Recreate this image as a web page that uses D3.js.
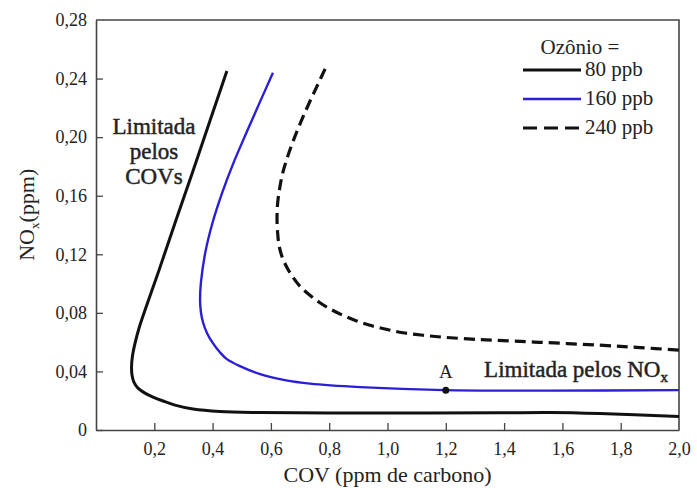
<!DOCTYPE html>
<html>
<head>
<meta charset="utf-8">
<script src="https://cdn.jsdelivr.net/npm/d3@7"></script>
<style>
  body { margin: 0; background: #fff; }
  text { font-family: "Liberation Serif", "DejaVu Serif", serif; fill: #222; }
</style>
</head>
<body>
<div id="grafico"></div>
<script>
// valores (COV em ppm C, NOx em ppm)
const xTicks = [0.2, 0.4, 0.6, 0.8, 1.0, 1.2, 1.4, 1.6, 1.8, 2.0];
const yTicks = [0, 0.04, 0.08, 0.12, 0.16, 0.20, 0.24, 0.28];

const curva80 = [
  [0.449, 0.2452], [0.391, 0.2112], [0.333, 0.1771], [0.274, 0.1431], [0.216, 0.1090],
  [0.192, 0.0954], [0.168, 0.0818], [0.1475, 0.0695], [0.134, 0.0593], [0.125, 0.0504],
  [0.122, 0.0436], [0.1235, 0.0375], [0.130, 0.0327], [0.144, 0.0286], [0.168, 0.0252],
  [0.1955, 0.0225], [0.230, 0.0198], [0.271, 0.0170], [0.333, 0.0143], [0.425, 0.0126],
  [0.563, 0.0119], [0.803, 0.0116], [1.146, 0.0116], [1.386, 0.0117], [1.557, 0.0119],
  [1.729, 0.0112], [2.0, 0.0092]
];
const curva160 = [
  [0.607, 0.2439], [0.561, 0.2234], [0.516, 0.2030], [0.472, 0.1826], [0.433, 0.1621],
  [0.400, 0.1417], [0.375, 0.1213], [0.360, 0.1008], [0.357, 0.0886], [0.360, 0.0804],
  [0.367, 0.0736], [0.381, 0.0661], [0.401, 0.0593], [0.425, 0.0531], [0.449, 0.0484],
  [0.494, 0.0436], [0.563, 0.0381], [0.648, 0.0341], [0.734, 0.0317], [0.906, 0.0293],
  [1.194, 0.0272], [1.557, 0.0269], [2.0, 0.0272]
];
const curva240 = [
  [0.786, 0.2466], [0.762, 0.2364], [0.738, 0.2262], [0.715, 0.2160], [0.693, 0.2057],
  [0.673, 0.1955], [0.655, 0.1853], [0.640, 0.1751], [0.630, 0.1649], [0.623, 0.1546],
  [0.621, 0.1444], [0.623, 0.1349], [0.628, 0.1260], [0.638, 0.1185], [0.655, 0.1110],
  [0.676, 0.1042], [0.700, 0.0981], [0.734, 0.0920], [0.768, 0.0869], [0.806, 0.0824],
  [0.847, 0.0783], [0.892, 0.0746], [0.940, 0.0715], [0.995, 0.0688], [1.053, 0.0664],
  [1.122, 0.0647], [1.190, 0.0634], [1.276, 0.0622], [1.362, 0.0613], [1.523, 0.0599],
  [1.729, 0.0579], [1.866, 0.0563], [2.0, 0.0545]
];
const pontoA = [1.2, 0.0272];

const series = [
  { nome: "80 ppb", dados: curva80, cor: "#111", largura: 3, traco: null, tracoLegenda: null },
  { nome: "160 ppb", dados: curva160, cor: "#2a1fd6", largura: 2.4, traco: null, tracoLegenda: null },
  { nome: "240 ppb", dados: curva240, cor: "#111", largura: 3.2, traco: "11,6", tracoLegenda: "14,7" }
];

const width = 697, height = 488;
const margin = { top: 20, right: 18, bottom: 58, left: 96 };

const x = d3.scaleLinear().domain([0, 2.0]).range([margin.left, width - margin.right]);
const y = d3.scaleLinear().domain([0, 0.28]).range([height - margin.bottom, margin.top]);

const svg = d3.select("#grafico").append("svg")
  .attr("width", width)
  .attr("height", height);

const virgula = d => d3.format(".2f")(d).replace(".", ",");

// eixo x (ticks para dentro)
const eixoX = svg.append("g")
  .attr("transform", `translate(0, ${y(0)})`)
  .call(d3.axisBottom(x).tickValues(xTicks).tickSizeInner(-7).tickSizeOuter(0).tickPadding(12)
    .tickFormat(d => d3.format(".1f")(d).replace(".", ",")));

const eixoY = svg.append("g")
  .attr("transform", `translate(${x(0)}, 0)`)
  .call(d3.axisLeft(y).tickValues(yTicks).tickSizeInner(-7).tickSizeOuter(0).tickPadding(9)
    .tickFormat(d => d === 0 ? "0" : virgula(d)));

[eixoX, eixoY].forEach(g => {
  g.select(".domain").attr("stroke", "#444").attr("stroke-width", 1.6);
  g.selectAll(".tick line").attr("stroke", "#444").attr("stroke-width", 1.3);
  g.selectAll(".tick text").style("font-size", "18px").attr("fill", "#333")
    .style("font-family", "'Liberation Serif', serif");
});
eixoY.selectAll(".tick").filter(d => d === 0.28).select("line").remove();
eixoX.selectAll(".tick").filter(d => d === 2.0).select("line").remove();

// moldura superior e direita
svg.append("path")
  .attr("d", `M${x(0)},${y(0.28)}H${x(2.0)}V${y(0)}`)
  .attr("fill", "none")
  .attr("stroke", "#444")
  .attr("stroke-width", 1.6);

// curvas
const linha = d3.line()
  .x(d => x(d[0]))
  .y(d => y(d[1]))
  .curve(d3.curveCatmullRom.alpha(0.5));

series.forEach(s => {
  svg.append("path")
    .datum(s.dados)
    .attr("d", linha)
    .attr("fill", "none")
    .attr("stroke", s.cor)
    .attr("stroke-width", s.largura)
    .attr("stroke-dasharray", s.traco);
});

// ponto A
svg.append("circle")
  .attr("cx", x(pontoA[0]))
  .attr("cy", y(pontoA[1]))
  .attr("r", 3.5)
  .attr("fill", "#111");
svg.append("text")
  .attr("x", x(pontoA[0]))
  .attr("y", y(pontoA[1]) - 12)
  .attr("text-anchor", "middle")
  .style("font-size", "19px")
  .text("A");

// anotações
const anot = svg.append("text")
  .attr("text-anchor", "middle")
  .style("font-size", "23px")
  .attr("fill", "#2a2a2a")
  .attr("stroke", "#2a2a2a")
  .attr("stroke-width", 0.5);
["Limitada", "pelos", "COVs"].forEach((t, i) => {
  anot.append("tspan").attr("x", 154).attr("y", 134 + i * 25).text(t);
});

const anotNox = svg.append("text")
  .attr("x", 576)
  .attr("y", 377)
  .attr("text-anchor", "middle")
  .style("font-size", "23px")
  .attr("fill", "#2a2a2a")
  .attr("stroke", "#2a2a2a")
  .attr("stroke-width", 0.5);
anotNox.append("tspan").text("Limitada pelos NO");
anotNox.append("tspan").attr("dy", 5).style("font-size", "15px").text("x");

// legenda
svg.append("text")
  .attr("x", 580)
  .attr("y", 54)
  .attr("text-anchor", "middle")
  .style("font-size", "21px")
  .attr("fill", "#333")
  .text("Ozônio =");

series.forEach((s, i) => {
  const yy = 70 + i * 29;
  svg.append("line")
    .attr("x1", 523).attr("x2", 581)
    .attr("y1", yy).attr("y2", yy)
    .attr("stroke", s.cor)
    .attr("stroke-width", s.largura)
    .attr("stroke-dasharray", s.tracoLegenda);
  svg.append("text")
    .attr("x", 585)
    .attr("y", yy + 6)
    .style("font-size", "21px")
    .attr("fill", "#333")
    .text(s.nome);
});

// títulos dos eixos
svg.append("text")
  .attr("x", (x(0) + x(2.0)) / 2)
  .attr("y", 482)
  .attr("text-anchor", "middle")
  .style("font-size", "22px")
  .attr("fill", "#333")
  .text("COV (ppm de carbono)");

const tituloY = svg.append("text")
  .attr("transform", `translate(34, ${y(0.147)}) rotate(-90)`)
  .attr("text-anchor", "middle")
  .style("font-size", "22px")
  .attr("fill", "#333");
tituloY.append("tspan").text("NO");
tituloY.append("tspan").attr("dy", 5).style("font-size", "13px").text("x");
tituloY.append("tspan").attr("dy", -5).text("(ppm)");
</script>
</body>
</html>
